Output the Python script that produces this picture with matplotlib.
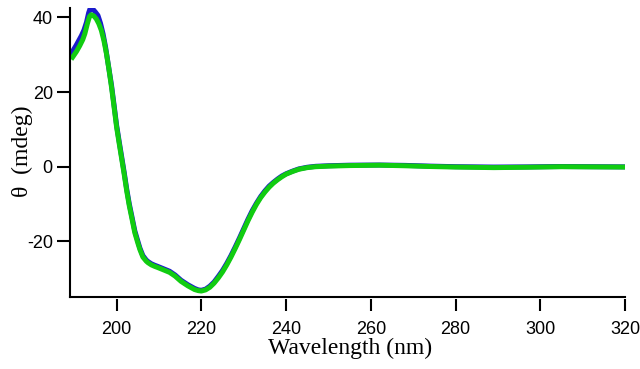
import matplotlib
matplotlib.use("Agg")
import matplotlib.pyplot as plt

plt.rcParams["axes.unicode_minus"] = False

# Wavelength grid (nm) and ellipticity values (mdeg)
wl_green = [189.6, 190.5, 191.3, 192.0, 192.5, 193.1, 193.6, 194.0, 194.6, 195.2,
            195.8, 196.4, 197.0, 197.6, 198.2, 198.8, 199.4, 200.0, 200.6, 201.2,
            201.8, 202.4, 203.0, 203.6, 204.3, 205.0, 205.5, 206.2, 207.0, 207.4,
            208.2, 209.0, 209.7, 211.0, 212.5, 213.8, 215.2, 216.8, 218.4, 219.3,
            220.0, 221.0, 222.0, 223.0, 224.0, 225.0, 226.0, 227.0, 228.0, 229.0,
            230.0, 231.0, 232.0, 233.0, 234.0, 235.0, 236.0, 237.0, 238.0, 239.0,
            240.0, 241.5, 243.0, 245.0, 247.0, 250.0, 255.0, 262.0, 268.0, 274.0,
            280.0, 289.0, 297.0, 305.0, 312.0, 320.0]
theta_green = [29.3, 30.8, 32.4, 34.0, 35.6, 38.3, 40.2, 40.7, 40.4, 39.6,
               38.3, 36.5, 33.8, 30.3, 26.0, 21.3, 16.0, 10.6, 6.3, 2.1,
               -2.1, -6.6, -10.5, -13.8, -17.7, -20.4, -22.2, -24.2, -25.3, -25.7,
               -26.3, -26.7, -27.0, -27.6, -28.3, -29.3, -30.7, -31.9, -32.9, -33.2,
               -33.3, -33.0, -32.3, -31.2, -29.8, -28.2, -26.3, -24.2, -21.9, -19.5,
               -17.0, -14.5, -12.2, -10.1, -8.3, -6.8, -5.5, -4.4, -3.5, -2.7,
               -2.0, -1.3, -0.7, -0.25, 0.0, 0.15, 0.3, 0.4, 0.25, 0.05,
               -0.1, -0.25, -0.15, 0.0, -0.05, -0.1]

wl_blue = [189.4, 190.5, 191.7, 192.3, 192.9, 193.4, 193.8, 194.4, 195.0, 195.6,
           196.2, 196.8, 197.4, 198.0, 198.8, 199.4, 200.0, 200.6, 201.2,
           201.8, 202.4, 203.0, 203.6, 204.3, 205.0, 205.5, 206.2, 207.0, 207.4,
           208.2, 209.0, 209.7, 211.0, 212.5, 213.8, 215.2, 216.8, 218.4, 219.3,
           220.0, 221.0, 222.0, 223.0, 224.0, 225.0, 226.0, 227.0, 228.0, 229.0,
           230.0, 231.0, 232.0, 233.0, 234.0, 235.0, 236.0, 237.0, 238.0, 239.0,
           240.0, 241.5, 243.0, 245.0, 247.0, 250.0, 255.0, 262.0, 268.0, 274.0,
           280.0, 289.0, 297.0, 305.0, 312.0, 320.0]
theta_blue = [30.5, 32.6, 35.1, 36.6, 38.7, 41.2, 42.5, 42.2, 41.4, 40.5,
              38.4, 35.6, 32.0, 27.6, 21.8, 16.5, 11.1, 6.8, 2.6,
              -1.6, -6.1, -10.0, -13.3, -17.2, -19.9, -21.8, -23.8, -25.0, -25.4,
              -26.0, -26.4, -26.7, -27.3, -28.0, -29.0, -30.4, -31.6, -32.6, -33.0,
              -33.1, -32.8, -32.0, -30.9, -29.4, -27.8, -25.9, -23.8, -21.5, -19.1,
              -16.6, -14.1, -11.8, -9.8, -8.0, -6.5, -5.2, -4.2, -3.3, -2.5,
              -1.9, -1.2, -0.6, -0.15, 0.1, 0.25, 0.4, 0.45, 0.35, 0.15,
              0.0, -0.1, -0.05, 0.05, 0.0, -0.05]

x_ticks = [200, 220, 240, 260, 280, 300, 320]
y_ticks = [-20, 0, 20, 40]
x_range = (189.0, 320.0)
y_range = (-34.9, 42.5)

fig = plt.figure(figsize=(6.4, 3.69), dpi=100)
ax = fig.add_axes([70 / 640, 1 - 297.0 / 369, 555 / 640, 289.0 / 369])

ax.plot(wl_blue, theta_blue, color="#1a1acc", lw=3.6, solid_joinstyle="round")
ax.plot(wl_green, theta_green, color="#11cc11", lw=3.6, solid_joinstyle="round")

ax.set_xlim(*x_range)
ax.set_ylim(*y_range)
ax.set_xticks(x_ticks)
ax.set_yticks(y_ticks)

for s in ("top", "right"):
    ax.spines[s].set_visible(False)
ax.spines["left"].set_linewidth(1.5)
# detached bottom ticks: move the tick axis slightly outward, draw axis line at the bottom
ax.spines["bottom"].set_position(("outward", 1.2))
ax.spines["bottom"].set_visible(False)
ax.axhline(y_range[0], color="black", lw=1.5, clip_on=False, zorder=3)

ax.tick_params(axis="x", direction="out", length=8.8, width=1.5, pad=7.5,
               labelsize=13, labelfontfamily="Liberation Sans")
ax.tick_params(axis="y", direction="out", length=9.4, width=1.5, pad=3,
               labelsize=13, labelfontfamily="Liberation Sans")

ax.set_xlabel("Wavelength (nm)", family="Liberation Serif", fontsize=17)
ax.xaxis.set_label_coords((350 - 70) / 555, (297.0 - 348) / 289.0)
ax.xaxis.label.set_va("center")
ax.set_ylabel("θ  (mdeg)", family="Liberation Serif", fontsize=17)
ax.yaxis.set_label_coords((22.5 - 70) / 555, (297.0 - 151.5) / 289.0)
ax.yaxis.label.set_va("center")

fig.savefig("out.png", dpi=100)
